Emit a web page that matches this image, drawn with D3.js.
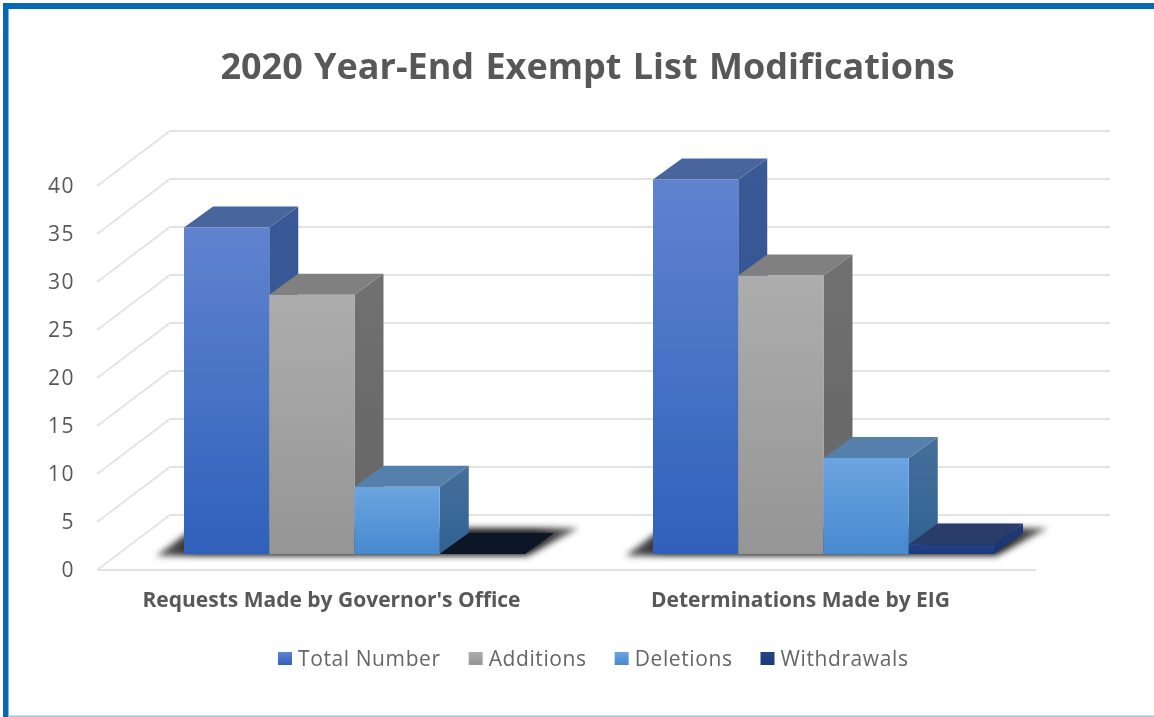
<!DOCTYPE html>
<html>
<head>
<meta charset="utf-8">
<script src="https://cdn.jsdelivr.net/npm/d3@7"></script>
<style>
  html, body { margin: 0; padding: 0; background: #fff; }
  svg { display: block; }
  text { font-family: "Open Sans", sans-serif; fill: #595959; }
</style>
</head>
<body>
<div class="container"></div>
<script>
var categories = ["Requests Made by Governor's Office", "Determinations Made by EIG"];
var seriesNames = ["Total Number", "Additions", "Deletions", "Withdrawals"];
var totalNumber = [34, 39];
var additions = [27, 29];
var deletions = [7, 10];
var withdrawals = [0, 1];
var seriesValues = [totalNumber, additions, deletions, withdrawals];
var yTicks = [0, 5, 10, 15, 20, 25, 30, 35, 40];

// front top / front bottom / top face / side top / side bottom
var faceColors = [
  ["#6083cf", "#2f61bb", "#4a659e", "#3a5a96", "#2c5190"],
  ["#adadad", "#959595", "#808080", "#707070", "#666666"],
  ["#6ba5e0", "#4889cf", "#5480ab", "#466f9b", "#2f6292"],
  ["#234285", "#1c3a7c", "#2a3c6a", "#1f3a78", "#1c3570"]
];
var zeroColor = "#0b1226";

var width = 1154, height = 717;
var wallLeft = 170, wallRight = 1110;
var floorDx = 73, floorDy = 55;   // front of the side wall relative to the back
var barDx = 29, barDy = 21;       // depth of a bar
var barBaseDy = 39;               // front of a bar relative to the back wall

var svg = d3.select(".container").append("svg")
    .attr("width", width)
    .attr("height", height);

var defs = svg.append("defs");
defs.append("filter").attr("id", "soft")
    .attr("x", "-5%").attr("y", "-5%").attr("width", "110%").attr("height", "110%")
  .append("feGaussianBlur").attr("stdDeviation", 0.7);
defs.append("filter").attr("id", "shadow")
    .attr("x", "-10%").attr("y", "-40%").attr("width", "120%").attr("height", "180%")
  .append("feGaussianBlur").attr("stdDeviation", 3);

function gradient(id, c0, c1) {
  var g = defs.append("linearGradient").attr("id", id)
      .attr("x1", 0).attr("y1", 0).attr("x2", 0).attr("y2", 1);
  g.append("stop").attr("offset", "0%").attr("stop-color", c0);
  g.append("stop").attr("offset", "100%").attr("stop-color", c1);
}
faceColors.forEach(function(c, i) {
  gradient("front" + i, c[0], c[1]);
  gradient("side" + i, c[3], c[4]);
});

// shadow is dark next to the bars and fades out at both ends
var shadowFill = defs.append("linearGradient").attr("id", "shadowFill");
shadowFill.append("stop").attr("offset", "0%").attr("stop-color", "#666");
shadowFill.append("stop").attr("offset", "10%").attr("stop-color", "#222");
shadowFill.append("stop").attr("offset", "90%").attr("stop-color", "#222");
shadowFill.append("stop").attr("offset", "100%").attr("stop-color", "#777");

// page frame
svg.append("rect").attr("x", 3).attr("y", 3).attr("width", width - 3).attr("height", 6).attr("fill", "#0868b8");
svg.append("rect").attr("x", 3).attr("y", 3).attr("width", 5.5).attr("height", height - 3).attr("fill", "#0868b8");
svg.append("rect").attr("x", 8).attr("y", 715.5).attr("width", width - 8).attr("height", 1.5).attr("fill", "#9cc8e8");

var chart = svg.append("g").attr("filter", "url(#soft)");

var y = d3.scaleLinear().domain([0, 40]).range([515, 131]);
var x0 = d3.scaleBand().domain(categories).range([120, 1058])
    .paddingInner(128 / 469).paddingOuter(64 / 469);
var x1 = d3.scaleBand().domain(seriesNames).range([0, x0.bandwidth()]);

// ----------
// Grid

var grid = chart.append("g").attr("fill", "none").attr("stroke", "#e3e3e3").attr("stroke-width", 1.8);

grid.selectAll(".back")
    .data(yTicks)
    .enter().append("line")
      .attr("x1", wallLeft).attr("x2", wallRight)
      .attr("y1", function(d) { return y(d); })
      .attr("y2", function(d) { return y(d); });

grid.selectAll(".side")
    .data(yTicks)
    .enter().append("line")
      .attr("x1", wallLeft - floorDx).attr("x2", wallLeft)
      .attr("y1", function(d) { return y(d) + floorDy; })
      .attr("y2", function(d) { return y(d); });

grid.append("line")
    .attr("x1", wallLeft - floorDx).attr("x2", 1036)
    .attr("y1", y(0) + floorDy).attr("y2", y(0) + floorDy);

var axis = chart.append("g")
    .attr("transform", "translate(" + (wallLeft - floorDx) + "," + floorDy + ")")
    .call(d3.axisLeft(y).tickValues(yTicks).tickSize(0).tickPadding(22));
axis.select(".domain").remove();
axis.selectAll("text")
    .style("font-size", "21px")
    .style("letter-spacing", "1.5px")
    .style("font-family", "'Open Sans', sans-serif");

// ----------
// Shadows and bars

var groups = chart.selectAll(".group")
    .data(categories)
    .enter().append("g")
      .attr("class", "group")
      .attr("transform", function(d) { return "translate(" + x0(d) + ",0)"; });

var baseY = y(0) + barBaseDy;

groups.append("path")
    .attr("fill", "url(#shadowFill)")
    .attr("filter", "url(#shadow)")
    .attr("d", function() {
      var w = x0.bandwidth();
      return "M" + (-28) + "," + (baseY + 2)
        + "L" + 10 + "," + (baseY - 26)
        + "L" + (w + 54) + "," + (baseY - 26)
        + "L" + (w + 2) + "," + (baseY + 2) + "Z";
    });

seriesNames.forEach(function(name, s) {
  var w = x1.bandwidth();
  function value(d) { return seriesValues[s][categories.indexOf(d)]; }
  function topY(d) { return y(value(d)) + barBaseDy; }

  var bars = groups.append("g")
      .attr("transform", "translate(" + x1(name) + ",0)");

  // side
  bars.filter(function(d) { return value(d) > 0; }).append("path")
      .attr("fill", "url(#side" + s + ")")
      .attr("d", function(d) {
        var top = topY(d);
        return "M" + w + "," + top + "L" + (w + barDx) + "," + (top - barDy)
          + "L" + (w + barDx) + "," + (baseY - barDy) + "L" + w + "," + baseY + "Z";
      });
  // top
  bars.append("path")
      .attr("fill", function(d) { return value(d) > 0 ? faceColors[s][2] : zeroColor; })
      .attr("d", function(d) {
        var top = topY(d);
        return "M0," + top + "L" + barDx + "," + (top - barDy)
          + "L" + (w + barDx) + "," + (top - barDy) + "L" + w + "," + top + "Z";
      });
  // front
  bars.filter(function(d) { return value(d) > 0; }).append("rect")
      .attr("fill", "url(#front" + s + ")")
      .attr("width", w)
      .attr("y", topY)
      .attr("height", function(d) { return baseY - topY(d); });
});

// ----------
// Labels and decoration

chart.append("text")
    .attr("x", 587.5).attr("y", 79)
    .attr("text-anchor", "middle")
    .style("font-size", "36px").style("font-weight", 700)
    .style("word-spacing", "2px")
    .text("2020 Year-End Exempt List Modifications");

chart.selectAll(".category")
    .data(categories)
    .enter().append("text")
      .attr("class", "category")
      .attr("x", function(d) { return x0(d) + x0.bandwidth() / 2 - 23; })
      .attr("y", 607)
      .attr("text-anchor", "middle")
      .style("font-size", "21px").style("font-weight", 700)
      .text(function(d) { return d; });

var legend = chart.append("g");
var legendX = 278;
seriesNames.forEach(function(name, s) {
  legend.append("rect")
      .attr("x", legendX).attr("y", 652).attr("width", 14).attr("height", 13)
      .attr("fill", "url(#front" + s + ")");
  var label = legend.append("text")
      .attr("x", legendX + 20).attr("y", 666)
      .style("font-size", "21px")
      .style("letter-spacing", "0.6px")
      .style("fill", "#666")
      .text(name);
  legendX += 20 + label.node().getComputedTextLength() + 28;
});
</script>
</body>
</html>
